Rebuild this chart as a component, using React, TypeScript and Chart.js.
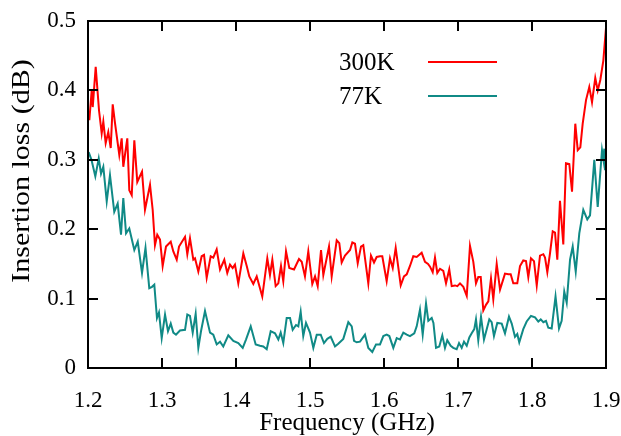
import { useEffect, useRef, useState } from 'react';
import { Chart, registerables } from 'chart.js';

Chart.register(...registerables);

// Axis ticks
const xTicks = [1.2, 1.3, 1.4, 1.5, 1.6, 1.7, 1.8, 1.9];
const yTicks = [0, 0.1, 0.2, 0.3, 0.4, 0.5];

const xTitle = 'Frequency (GHz)';
const yTitle = 'Insertion loss (dB)';

const seriesNames = ['300K', '77K'];
const seriesColors = ['#ff0000', '#108a86'];

// 300 K measurement: frequency (GHz) and insertion loss (dB)
const freq300K = [
  1.2018, 1.205, 1.2064, 1.2104, 1.2149, 1.2185, 1.2207, 1.2239, 1.2274, 1.2307,
  1.2334, 1.2365, 1.2423, 1.2455, 1.2477, 1.2531, 1.2558, 1.2591, 1.2626, 1.2666,
  1.273, 1.277, 1.2838, 1.2874, 1.2905, 1.2936, 1.2973, 1.3009, 1.3054, 1.3118,
  1.3153, 1.3199, 1.323, 1.3311, 1.3342, 1.3378, 1.3423, 1.3446, 1.3491, 1.3536,
  1.3568, 1.3604, 1.3658, 1.3693, 1.3739, 1.3784, 1.3842, 1.3882, 1.3919, 1.3955,
  1.3986, 1.4031, 1.4099, 1.4145, 1.418, 1.4234, 1.428, 1.4355, 1.4423, 1.4459,
  1.4491, 1.4536, 1.4572, 1.4608, 1.4639, 1.4676, 1.472, 1.4784, 1.4851, 1.4888,
  1.4932, 1.4977, 1.5031, 1.5068, 1.5104, 1.5149, 1.518, 1.5257, 1.5293, 1.5361,
  1.5396, 1.5428, 1.5473, 1.5541, 1.5572, 1.5608, 1.5645, 1.5689, 1.572, 1.5788,
  1.5824, 1.5865, 1.5901, 1.5946, 1.5977, 1.6036, 1.6081, 1.6118, 1.6158, 1.6226,
  1.627, 1.6307, 1.6351, 1.6396, 1.6442, 1.6509, 1.6554, 1.6595, 1.6622, 1.6658,
  1.6689, 1.672, 1.6757, 1.6801, 1.6838, 1.6882, 1.6915, 1.6959, 1.6991, 1.7027,
  1.7072, 1.7118, 1.7162, 1.7207, 1.7243, 1.7274, 1.7307, 1.7342, 1.7378, 1.741,
  1.7446, 1.7477, 1.7523, 1.7568, 1.7635, 1.768, 1.7712, 1.7747, 1.7801, 1.7838,
  1.7882, 1.7919, 1.795, 1.7986, 1.8027, 1.8064, 1.8108, 1.8153, 1.8176, 1.8207,
  1.8243, 1.828, 1.8311, 1.8342, 1.8378, 1.8423, 1.8459, 1.8504, 1.8541, 1.8585,
  1.8618, 1.8653, 1.8685, 1.873, 1.8774, 1.8811, 1.8855, 1.8888, 1.8923, 1.8964,
  1.9,
];
const loss300K = [
  0.357, 0.4, 0.376, 0.434, 0.371, 0.338, 0.355, 0.324, 0.34, 0.317,
  0.38, 0.353, 0.307, 0.331, 0.29, 0.331, 0.256, 0.249, 0.328, 0.268,
  0.283, 0.228, 0.264, 0.228, 0.177, 0.192, 0.185, 0.147, 0.175, 0.182,
  0.168, 0.156, 0.175, 0.189, 0.164, 0.187, 0.156, 0.158, 0.139, 0.161,
  0.163, 0.13, 0.161, 0.159, 0.171, 0.142, 0.156, 0.137, 0.149, 0.144,
  0.149, 0.122, 0.165, 0.147, 0.132, 0.121, 0.132, 0.103, 0.158, 0.134,
  0.156, 0.118, 0.122, 0.147, 0.125, 0.168, 0.144, 0.142, 0.157, 0.153,
  0.132, 0.168, 0.121, 0.132, 0.118, 0.17, 0.134, 0.175, 0.132, 0.184,
  0.18, 0.152, 0.162, 0.17, 0.181, 0.179, 0.151, 0.175, 0.177, 0.122,
  0.162, 0.152, 0.16, 0.161, 0.161, 0.125, 0.158, 0.144, 0.173, 0.119,
  0.132, 0.135, 0.147, 0.161, 0.16, 0.166, 0.153, 0.15, 0.146, 0.138,
  0.159, 0.137, 0.143, 0.14, 0.122, 0.142, 0.118, 0.119, 0.118, 0.122,
  0.117, 0.104, 0.176, 0.153, 0.122, 0.131, 0.131, 0.083, 0.091, 0.096,
  0.129, 0.099, 0.15, 0.113, 0.136, 0.135, 0.135, 0.122, 0.122, 0.147,
  0.155, 0.154, 0.131, 0.158, 0.154, 0.119, 0.162, 0.164, 0.159, 0.138,
  0.165, 0.197, 0.195, 0.156, 0.241, 0.178, 0.295, 0.294, 0.254, 0.352,
  0.314, 0.318, 0.352, 0.386, 0.405, 0.383, 0.418, 0.4, 0.415, 0.443,
  0.49,
];

// 77 K measurement: frequency (GHz) and insertion loss (dB)
const freq77K = [
  1.2009, 1.2047, 1.2099, 1.2145, 1.2176, 1.2207, 1.2253, 1.2297, 1.2355, 1.2401,
  1.2446, 1.2477, 1.2514, 1.2558, 1.2626, 1.2672, 1.273, 1.2777, 1.2828, 1.2865,
  1.2896, 1.2932, 1.2959, 1.2996, 1.3041, 1.3081, 1.3118, 1.3153, 1.3189, 1.3243,
  1.3311, 1.3342, 1.3378, 1.3415, 1.3455, 1.3491, 1.3527, 1.3581, 1.3649, 1.3693,
  1.3739, 1.3784, 1.3828, 1.3896, 1.3964, 1.4031, 1.4091, 1.4135, 1.4199, 1.4266,
  1.4324, 1.4369, 1.4415, 1.4469, 1.4527, 1.4572, 1.4604, 1.4639, 1.4685, 1.473,
  1.4766, 1.4811, 1.4842, 1.4874, 1.4909, 1.4946, 1.5, 1.5045, 1.5091, 1.5145,
  1.5189, 1.5234, 1.528, 1.5338, 1.5382, 1.545, 1.5518, 1.5564, 1.5595, 1.5631,
  1.5676, 1.5743, 1.5788, 1.5842, 1.5892, 1.5946, 1.5991, 1.6036, 1.6072, 1.6126,
  1.6172, 1.6216, 1.6261, 1.6307, 1.6351, 1.6409, 1.6442, 1.6486, 1.6523, 1.6568,
  1.6599, 1.6645, 1.6668, 1.6703, 1.6747, 1.6788, 1.6824, 1.6855, 1.6901, 1.6936,
  1.6982, 1.7014, 1.705, 1.7081, 1.7118, 1.7153, 1.7185, 1.722, 1.7243, 1.7274,
  1.7311, 1.7351, 1.7388, 1.7423, 1.7455, 1.7486, 1.7531, 1.7591, 1.7635, 1.7689,
  1.7726, 1.777, 1.7801, 1.7828, 1.7882, 1.7928, 1.7986, 1.8041, 1.8085, 1.8118,
  1.8153, 1.8189, 1.822, 1.8266, 1.8318, 1.8365, 1.8401, 1.8436, 1.8469, 1.8514,
  1.855, 1.8591, 1.8639, 1.8693, 1.8747, 1.8784, 1.8842, 1.8888, 1.8946, 1.8966,
  1.8977, 1.8986, 1.9,
];
const loss77K = [
  0.311, 0.3, 0.276, 0.302, 0.28, 0.29, 0.24, 0.278, 0.225, 0.237,
  0.192, 0.245, 0.194, 0.201, 0.17, 0.182, 0.137, 0.173, 0.115, 0.117,
  0.12, 0.072, 0.08, 0.043, 0.077, 0.053, 0.064, 0.051, 0.048, 0.054,
  0.055, 0.077, 0.075, 0.051, 0.078, 0.029, 0.053, 0.082, 0.051, 0.048,
  0.034, 0.038, 0.031, 0.047, 0.039, 0.036, 0.029, 0.041, 0.06, 0.034,
  0.032, 0.031, 0.027, 0.053, 0.05, 0.041, 0.051, 0.036, 0.072, 0.072,
  0.055, 0.062, 0.06, 0.081, 0.046, 0.065, 0.051, 0.029, 0.048, 0.048,
  0.036, 0.042, 0.045, 0.031, 0.035, 0.042, 0.066, 0.06, 0.039, 0.037,
  0.038, 0.048, 0.029, 0.023, 0.034, 0.034, 0.046, 0.048, 0.046, 0.029,
  0.043, 0.041, 0.051, 0.048, 0.046, 0.05, 0.06, 0.084, 0.048, 0.093,
  0.068, 0.072, 0.065, 0.029, 0.031, 0.047, 0.029, 0.04, 0.032, 0.029,
  0.027, 0.036, 0.029, 0.038, 0.032, 0.044, 0.05, 0.056, 0.07, 0.04,
  0.074, 0.041, 0.056, 0.07, 0.066, 0.046, 0.065, 0.064, 0.05, 0.074,
  0.064, 0.045, 0.049, 0.037, 0.056, 0.067, 0.075, 0.073, 0.067, 0.07,
  0.066, 0.068, 0.058, 0.057, 0.103, 0.057, 0.068, 0.11, 0.094, 0.156,
  0.175, 0.139, 0.194, 0.228, 0.214, 0.22, 0.3, 0.232, 0.314, 0.3,
  0.316, 0.285, 0.3,
];

const FONT = "'Liberation Serif', 'Times New Roman', serif";
const TICK_LEN = 10;
const LINE = 2;

const toPoints = (xs: number[], ys: number[]) => xs.map((x, i) => ({ x, y: ys[i] }));

// Closed frame with inward tick marks on all four sides
function drawFrame(chart: any) {
  const ctx: CanvasRenderingContext2D = chart.ctx;
  const xs = chart.scales.x;
  const ys = chart.scales.y;
  const left = xs.left;
  const right = xs.right;
  const top = ys.top;
  const bottom = ys.bottom;
  ctx.save();
  ctx.fillStyle = '#000000';
  ctx.fillRect(left - LINE / 2, top - LINE / 2, right - left + LINE, LINE);
  ctx.fillRect(left - LINE / 2, bottom - LINE / 2, right - left + LINE, LINE);
  ctx.fillRect(left - LINE / 2, top - LINE / 2, LINE, bottom - top + LINE);
  ctx.fillRect(right - LINE / 2, top - LINE / 2, LINE, bottom - top + LINE);
  xTicks.slice(1, -1).forEach((v) => {
    const px = Math.round(xs.getPixelForValue(v));
    ctx.fillRect(px - 1, bottom - TICK_LEN, LINE, TICK_LEN);
    ctx.fillRect(px - 1, top, LINE, TICK_LEN);
  });
  yTicks.slice(1, -1).forEach((v) => {
    const py = Math.round(ys.getPixelForValue(v));
    ctx.fillRect(left, py - 1, TICK_LEN, LINE);
    ctx.fillRect(right - TICK_LEN, py - 1, TICK_LEN, LINE);
  });
  ctx.restore();
}

const framePlugin = {
  id: 'frame',
  beforeDatasetsDraw(chart: any) {
    drawFrame(chart);
  },
  afterDraw(chart: any) {
    drawFrame(chart);
  },
};

// In-plot key and rotated y title
const keyPlugin = {
  id: 'keyAndTitle',
  afterDatasetsDraw(chart: any) {
    const ctx: CanvasRenderingContext2D = chart.ctx;
    ctx.save();
    ctx.font = `25px ${FONT}`;
    ctx.textAlign = 'left';
    ctx.textBaseline = 'middle';
    seriesNames.forEach((name, i) => {
      const cy = 62 + i * 34;
      ctx.fillStyle = '#000';
      ctx.fillText(name, 339, cy + 1);
      ctx.fillStyle = seriesColors[i];
      ctx.fillRect(428, cy - 1, 69, 2);
    });
    ctx.restore();

    ctx.save();
    ctx.fillStyle = '#000';
    ctx.font = `25px ${FONT}`;
    ctx.textAlign = 'center';
    ctx.textBaseline = 'middle';
    ctx.translate(22, 171);
    ctx.rotate(-Math.PI / 2);
    ctx.scale(1.2, 1);
    ctx.fillText(yTitle, 0, 0);
    ctx.restore();
  },
};

type FrameGeom = {
  left: number;
  right: number;
  top: number;
  bottom: number;
  xPx: number[];
  yPx: number[];
};

export default function App() {
  const canvasRef = useRef<HTMLCanvasElement | null>(null);
  const [frame, setFrame] = useState<FrameGeom | null>(null);

  useEffect(() => {
    const canvas = canvasRef.current;
    if (!canvas) return;
    const chart = new Chart(canvas, {
      type: 'line',
      data: {
        datasets: [
          {
            label: seriesNames[0],
            data: toPoints(freq300K, loss300K),
            borderColor: seriesColors[0],
            borderWidth: 2,
            pointRadius: 0,
            tension: 0,
            fill: false,
          },
          {
            label: seriesNames[1],
            data: toPoints(freq77K, loss77K),
            borderColor: seriesColors[1],
            borderWidth: 2,
            pointRadius: 0,
            tension: 0,
            fill: false,
          },
        ],
      },
      options: {
        responsive: false,
        animation: false,
        events: [],
        layout: { padding: { left: 0, right: 15, top: 21, bottom: 0 } },
        plugins: {
          legend: { display: false },
          tooltip: { enabled: false },
        },
        scales: {
          x: {
            type: 'linear',
            min: 1.2,
            max: 1.9,
            grid: { display: false, drawTicks: false },
            border: { display: false },
            afterBuildTicks: (s: any) => {
              s.ticks = xTicks.map((value) => ({ value }));
            },
            afterFit: (s: any) => {
              s.height = 68;
              s.paddingLeft = 0;
              s.paddingRight = 0;
            },
            ticks: {
              padding: 19,
              color: '#000',
              maxRotation: 0,
              autoSkip: false,
              font: { family: FONT, size: 23 },
              callback: (v: any) => Number(v).toFixed(1),
            },
            title: {
              display: true,
              text: xTitle,
              color: '#000',
              padding: 0,
              font: { family: FONT, size: 25, lineHeight: 1.0 },
            },
          },
          y: {
            type: 'linear',
            min: 0,
            max: 0.5,
            grid: { display: false, drawTicks: false },
            border: { display: false },
            afterBuildTicks: (s: any) => {
              s.ticks = yTicks.map((value) => ({ value }));
            },
            afterFit: (s: any) => {
              s.width = 88;
              s.paddingTop = 0;
              s.paddingBottom = 0;
            },
            ticks: {
              padding: 12,
              color: '#000',
              autoSkip: false,
              font: { family: FONT, size: 23 },
              callback: (v: any) => (Number(v) === 0 ? '0' : Number(v).toFixed(1)),
            },
          },
        },
      },
      plugins: [framePlugin, keyPlugin],
    });

    const area = chart.chartArea;
    setFrame({
      left: area.left,
      right: area.right,
      top: area.top,
      bottom: area.bottom,
      xPx: xTicks.slice(1, -1).map((v) => chart.scales.x.getPixelForValue(v)),
      yPx: yTicks.slice(1, -1).map((v) => chart.scales.y.getPixelForValue(v)),
    });

    return () => chart.destroy();
  }, []);

  const bar = (l: number, t: number, w: number, h: number) => ({
    position: 'absolute' as const,
    left: Math.round(l),
    top: Math.round(t),
    width: Math.round(w),
    height: Math.round(h),
    background: '#000',
    pointerEvents: 'none' as const,
  });

  return (
    <div style={{ position: 'fixed', left: 0, top: 0, width: 621, height: 436, background: '#fff' }}>
      <canvas ref={canvasRef} width={621} height={436} style={{ display: 'block' }} />
      {frame && (
        <>
          <div style={bar(frame.left - LINE / 2, frame.top - LINE / 2, frame.right - frame.left + LINE, LINE)} />
          <div style={bar(frame.left - LINE / 2, frame.bottom - LINE / 2, frame.right - frame.left + LINE, LINE)} />
          <div style={bar(frame.left - LINE / 2, frame.top - LINE / 2, LINE, frame.bottom - frame.top + LINE)} />
          <div style={bar(frame.right - LINE / 2, frame.top - LINE / 2, LINE, frame.bottom - frame.top + LINE)} />
          {frame.xPx.map((px, i) => (
            <div key={`xb${i}`} style={bar(px - 1, frame.bottom - TICK_LEN, LINE, TICK_LEN)} />
          ))}
          {frame.xPx.map((px, i) => (
            <div key={`xt${i}`} style={bar(px - 1, frame.top, LINE, TICK_LEN)} />
          ))}
          {frame.yPx.map((py, i) => (
            <div key={`yl${i}`} style={bar(frame.left, py - 1, TICK_LEN, LINE)} />
          ))}
          {frame.yPx.map((py, i) => (
            <div key={`yr${i}`} style={bar(frame.right - TICK_LEN, py - 1, TICK_LEN, LINE)} />
          ))}
        </>
      )}
    </div>
  );
}
